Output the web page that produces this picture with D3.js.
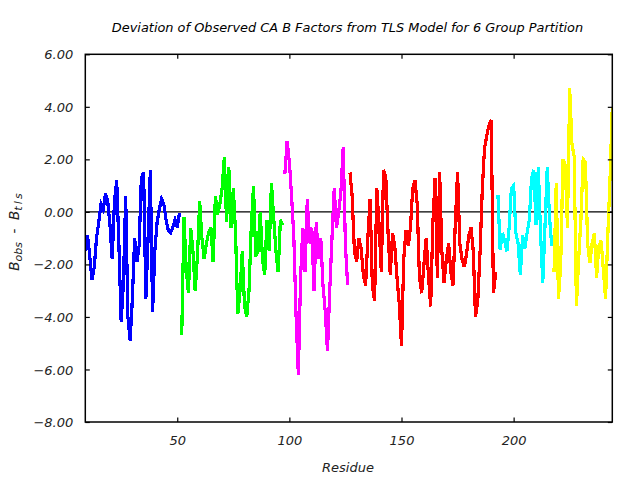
<!DOCTYPE html>
<html><head><meta charset="utf-8">
<script src="https://cdn.jsdelivr.net/npm/d3@7/dist/d3.min.js"></script>
<style>body{margin:0;background:#fff}svg{display:block}</style>
</head><body><svg id="c" width="640" height="480"></svg>
<script>
// ---- data ----
const groupStart = [9, 52, 98, 127, 193, 218];
const groupColors = ["#0000ff", "#00ff00", "#ff00ff", "#ff0000", "#00ffff", "#ffff00"];
const blueValues = [-1.5,-0.9,-1.7,-2.6,-2.1,-1.0,-0.4,0.3,0.1,0.7,0.4,-0.5,-1.8,0.4,1.2,-1.3,-4.2,-2.7,0.6,-4.0,-4.9,-3.3,-1.0,-1.9,-1.3,1.3,1.5,-3.3,-1.0,1.6,-3.8,-1.5,-0.4,0.1,0.5,0.3,-0.3,-0.7,-0.8,-0.6,-0.3,-0.6,-0.05];
const greenValues = [-4.7,-0.2,-2.2,-3.1,-0.6,-1.5,-3.0,-1.7,0.4,-1.0,-1.8,-1.2,-0.8,-0.6,-1.9,0.6,-0.1,0.3,0.9,2.1,-0.4,1.7,-0.6,0.9,-0.8,-3.9,-3.0,-1.5,-3.6,-4.0,-3.0,-0.6,1.0,-1.7,-1.5,0.0,-1.8,-2.4,-0.3,-1.5,1.1,-0.2,-1.5,-2.3,-0.3,-0.5];
const magentaValues = [1.45,2.7,1.9,0.6,-1.0,-4.0,-6.2,-2.5,-0.6,-2.3,0.5,-1.2,-0.6,-3.0,-0.4,-1.8,-1.0,-2.8,-3.8,-5.3,-3.0,-1.0,0.9,-0.6,0.0,0.8,2.45,-1.3,-2.8];
const redValues = [1.5,0.6,-1.5,-1.9,-1.0,-1.4,-2.4,-2.8,-1.0,0.5,-2.8,-3.4,0.9,-0.5,-2.3,1.6,1.3,-0.8,-2.4,-0.8,-1.3,-2.5,-3.5,-5.1,-1.8,-0.7,-1.3,-0.6,0.9,1.2,0.3,-2.5,-3.1,-2.0,-1.0,-2.4,-3.6,-0.4,1.3,-2.5,1.5,-1.5,-2.7,-1.8,-1.2,-2.3,-2.8,-0.4,1.5,-1.2,-1.8,-2.1,-1.6,-0.9,-0.6,-1.5,-4.0,-3.4,-1.6,0.8,2.4,2.9,3.3,3.5,-3.1,-2.3];
const cyanValues = [0.65,-1.45,-0.8,-1.1,-1.5,-0.6,0.9,1.0,-0.8,-1.2,-2.4,-0.9,-1.4,-0.8,-0.3,1.3,1.6,-0.5,1.7,-0.8,-2.7,-0.5,1.7,-0.2,-1.3];
const yellowValues = [-2.3,1.1,-3.3,-2.0,2.0,1.8,-0.6,4.7,2.6,2.1,-3.6,-1.8,-0.3,2.0,1.9,-1.2,-1.95,-1.2,-0.8,-2.5,-1.3,-1.1,-2.2,-3.3,-0.9,1.3,4.0];
const xTicks = [50, 100, 150, 200];
const yTicks = [-8, -6, -4, -2, 0, 2, 4, 6];
const xDomain = [9, 244];
const yDomain = [-8, 6];

const groups = [blueValues, greenValues, magentaValues, redValues, cyanValues, yellowValues]
  .map((vals, g) => ({ color: groupColors[g], pts: vals.map((v, i) => ({ r: groupStart[g] + i, v })) }));

// ---- layout ----
const L = 85.3, R = 612.3, T = 54.3, B = 422;
const svg = d3.select("#c");
const x = d3.scaleLinear().domain(xDomain).range([L, R]);
const y = d3.scaleLinear().domain(yDomain).range([B, T]);
const font = "'DejaVu Sans', sans-serif";

svg.append("defs").append("clipPath").attr("id", "clip")
  .append("rect").attr("x", L).attr("y", T).attr("width", R - L).attr("height", B - T);

// zero line
svg.append("line").attr("x1", L).attr("x2", R).attr("y1", y(0)).attr("y2", y(0))
  .attr("stroke", "#000").attr("stroke-width", 1.2);

// data lines
const line = d3.line().x(d => x(d.r)).y(d => y(d.v));
svg.append("g").attr("clip-path", "url(#clip)").selectAll("path").data(groups).join("path")
  .attr("d", d => line(d.pts)).attr("fill", "none").attr("stroke", d => d.color)
  .attr("stroke-width", 3.2).attr("stroke-linejoin", "miter").attr("shape-rendering", "crispEdges");

// axes (inward ticks, mirrored)
const tk = 4.5;
const axB = svg.append("g").attr("transform", `translate(0,${B})`)
  .call(d3.axisBottom(x).tickValues(xTicks).tickSize(-tk).tickPadding(11).tickFormat(d3.format("d")));
const axT = svg.append("g").attr("transform", `translate(0,${T})`)
  .call(d3.axisTop(x).tickValues(xTicks).tickSize(-tk).tickFormat(""));
const axL = svg.append("g").attr("transform", `translate(${L},0)`)
  .call(d3.axisLeft(y).tickValues(yTicks).tickSize(-tk).tickPadding(12).tickFormat(d3.format(".2f")));
const axR = svg.append("g").attr("transform", `translate(${R},0)`)
  .call(d3.axisRight(y).tickValues(yTicks).tickSize(-tk).tickFormat(""));
[axB, axT, axL, axR].forEach(a => {
  a.select(".domain").remove();
  a.selectAll(".tick line").attr("stroke", "#000").attr("stroke-width", 1.2);
  a.selectAll("text").attr("fill", "#222").style("font-family", font).style("font-style", "italic").style("font-size", "13px");
});
axL.selectAll("text").attr("dy", "0.35em");
axB.selectAll("text").attr("dy", "0.9em");

// frame
svg.append("rect").attr("x", L).attr("y", T).attr("width", R - L).attr("height", B - T)
  .attr("fill", "none").attr("stroke", "#000").attr("stroke-width", 1.5);

// title
svg.append("text").attr("x", 347.5).attr("y", 32).attr("text-anchor", "middle")
  .style("font-family", font).style("font-style", "italic").style("font-size", "12.9px").attr("fill", "#000")
  .text("Deviation of Observed CA B Factors from TLS Model for 6 Group Partition");

// x label
svg.append("text").attr("x", 348).attr("y", 472).attr("text-anchor", "middle")
  .style("font-family", font).style("font-style", "italic").style("font-size", "13px").attr("fill", "#222")
  .text("Residue");

// y label
const yl = svg.append("text").attr("transform", "translate(19,232) rotate(-90)").attr("text-anchor", "middle")
  .style("font-family", font).style("font-style", "italic").style("font-size", "13.5px").attr("fill", "#222");
yl.append("tspan").text("B");
yl.append("tspan").attr("baseline-shift", "-25%").style("font-size", "11px").text("obs");
yl.append("tspan").text("\u00a0\u00a0-\u00a0\u00a0B");
yl.append("tspan").attr("baseline-shift", "-25%").style("font-size", "11px").text("t\u2009l\u2009s");
</script></body></html>
